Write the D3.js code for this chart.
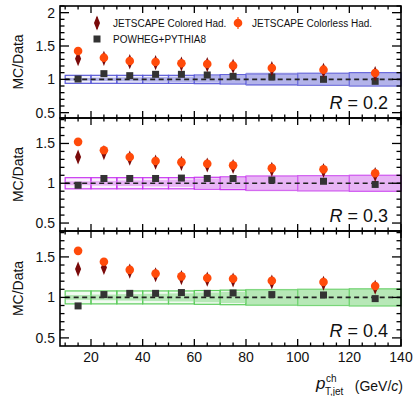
<!DOCTYPE html>
<html>
<head>
<meta charset="utf-8">
<script src="https://cdn.jsdelivr.net/npm/d3@7"></script>
<style>
  body { margin: 0; background: #fff; }
  svg { font-family: "Liberation Sans", Arial, Helvetica, sans-serif; }
</style>
</head>
<body>
<div id="chart"></div>
<script>
var width = 414, height = 396;

// bins and values
var binLo = [10, 20, 30, 40, 50, 60, 70, 80, 100, 120];
var binHi = [20, 30, 40, 50, 60, 70, 80, 100, 120, 140];
var ptCenter = [15, 25, 35, 45, 55, 65, 75, 90, 110, 130];

var radii = ["0.2", "0.3", "0.4"];

var colorlessR02 = [1.425, 1.325, 1.275, 1.26, 1.24, 1.23, 1.205, 1.17, 1.145, 1.095];
var coloredR02   = [1.31, 1.315, 1.265, 1.25, 1.23, 1.22, 1.195, 1.16, 1.135, 1.085];
var powhegR02    = [1.005, 1.085, 1.055, 1.075, 1.075, 1.065, 1.045, 1.035, 1.0, 0.97];

var colorlessR03 = [1.52, 1.415, 1.33, 1.28, 1.265, 1.245, 1.225, 1.19, 1.175, 1.125];
var coloredR03   = [1.33, 1.385, 1.315, 1.265, 1.25, 1.23, 1.21, 1.175, 1.16, 1.11];
var powhegR03    = [0.975, 1.06, 1.06, 1.06, 1.065, 1.06, 1.06, 1.04, 1.025, 0.985];

var colorlessR04 = [1.575, 1.44, 1.34, 1.295, 1.26, 1.24, 1.23, 1.205, 1.19, 1.14];
var coloredR04   = [1.35, 1.37, 1.325, 1.28, 1.245, 1.225, 1.215, 1.19, 1.175, 1.125];
var powhegR04    = [0.895, 1.035, 1.05, 1.05, 1.06, 1.05, 1.055, 1.035, 1.03, 0.985];

var statErr = [0.03, 0.025, 0.02, 0.02, 0.02, 0.02, 0.02, 0.02, 0.025, 0.025];

// data uncertainties around unity (half widths)
var sysOpenR02 = [0.06, 0.06, 0.06, 0.06, 0.06, 0.065, 0.07, 0.08, 0.09, 0.1];
var sysFillR02 = [0.02, 0.025, 0.03, 0.035, 0.04, 0.05, 0.06, 0.1, 0.1, 0.1];
var sysOpenR03 = [0.07, 0.07, 0.07, 0.07, 0.07, 0.075, 0.08, 0.09, 0.095, 0.1];
var sysFillR03 = [0.025, 0.03, 0.035, 0.04, 0.045, 0.06, 0.07, 0.1, 0.1, 0.1];
var sysOpenR04 = [0.08, 0.08, 0.08, 0.08, 0.08, 0.085, 0.09, 0.095, 0.1, 0.105];
var sysFillR04 = [0.03, 0.035, 0.04, 0.045, 0.05, 0.06, 0.07, 0.105, 0.105, 0.105];

var xTicksMajor = [20, 40, 60, 80, 100, 120, 140];
var yTicksMajor = [0.5, 1, 1.5, 2];

var panels = [
  { r: radii[0], colorless: colorlessR02, colored: coloredR02, powheg: powhegR02,
    sysOpen: sysOpenR02, sysFill: sysFillR02, domain: [0.42, 2.1], range: [118, 6],
    stroke: "#5a5ad8", fill: "#8a8ae0" },
  { r: radii[1], colorless: colorlessR03, colored: coloredR03, powheg: powhegR03,
    sysOpen: sysOpenR03, sysFill: sysFillR03, domain: [0.4, 1.82], range: [231, 118],
    stroke: "#c838f0", fill: "#dc8cf0" },
  { r: radii[2], colorless: colorlessR04, colored: coloredR04, powheg: powhegR04,
    sysOpen: sysOpenR04, sysFill: sysFillR04, domain: [0.4, 1.82], range: [346, 231],
    stroke: "#5ccc5c", fill: "#90dc90" }
];

var svg = d3.select("#chart")
  .append("svg")
  .attr("width", width)
  .attr("height", height);

var xScale = d3.scaleLinear()
  .domain([8, 140])
  .range([60, 401]);

var colColored = "#7a0a0a", colColorless = "#ff4a0a", colPowheg = "#333333";

panels.forEach(function(p, pi) {
  var yScale = d3.scaleLinear().domain(p.domain).range(p.range);
  var g = svg.append("g").attr("class", "panel-" + pi);

  var bins = ptCenter.map(function(d, i) {
    return { lo: binLo[i], hi: binHi[i], x: d, open: p.sysOpen[i], fill: p.sysFill[i],
      colorless: p.colorless[i], colored: p.colored[i], powheg: p.powheg[i], err: statErr[i] };
  });

  // open boxes (light interior)
  g.selectAll(".sysopen")
    .data(bins)
    .enter()
    .append("rect")
    .attr("x", d => xScale(d.lo))
    .attr("width", d => xScale(d.hi) - xScale(d.lo))
    .attr("y", d => yScale(1 + d.open))
    .attr("height", d => yScale(1 - d.open) - yScale(1 + d.open))
    .style("fill", p.fill)
    .style("fill-opacity", 0.12)
    .style("stroke", p.stroke)
    .style("stroke-width", 1.2);

  // filled uncertainty band
  g.selectAll(".sysfill")
    .data(bins)
    .enter()
    .append("rect")
    .attr("x", d => xScale(d.lo))
    .attr("width", d => xScale(d.hi) - xScale(d.lo))
    .attr("y", d => yScale(1 + d.fill))
    .attr("height", d => yScale(1 - d.fill) - yScale(1 + d.fill))
    .style("fill", p.fill)
    .style("opacity", 0.6);

  // unity line
  g.append("line")
    .attr("x1", xScale(10)).attr("x2", xScale(140))
    .attr("y1", yScale(1)).attr("y2", yScale(1))
    .style("stroke", "#222")
    .style("stroke-width", 1.6)
    .style("stroke-dasharray", "5,3.5");

  // POWHEG squares
  g.selectAll(".pw-err")
    .data(bins).enter().append("line")
    .attr("x1", d => xScale(d.x)).attr("x2", d => xScale(d.x))
    .attr("y1", d => yScale(d.powheg - d.err / 2)).attr("y2", d => yScale(d.powheg + d.err / 2))
    .style("stroke", colPowheg).style("stroke-width", 1.2);
  g.selectAll(".pw")
    .data(bins).enter().append("rect")
    .attr("x", d => xScale(d.x) - 3.5).attr("y", d => yScale(d.powheg) - 3.5)
    .attr("width", 7).attr("height", 7)
    .style("fill", colPowheg);

  // colored hadronization diamonds
  var diamond = d3.symbol().type(d3.symbolDiamond).size(50);
  g.selectAll(".col-err")
    .data(bins).enter().append("line")
    .attr("x1", d => xScale(d.x)).attr("x2", d => xScale(d.x))
    .attr("y1", d => yScale(d.colored - d.err)).attr("y2", d => yScale(d.colored + d.err))
    .style("stroke", colColored).style("stroke-width", 1.2);
  g.selectAll(".col")
    .data(bins).enter().append("path")
    .attr("d", diamond)
    .attr("transform", d => `translate(${xScale(d.x)},${yScale(d.colored)}) scale(0.8,1.15)`)
    .style("fill", colColored);

  // colorless hadronization circles
  g.selectAll(".cl-err")
    .data(bins).enter().append("line")
    .attr("x1", d => xScale(d.x)).attr("x2", d => xScale(d.x))
    .attr("y1", d => yScale(d.colorless - d.err)).attr("y2", d => yScale(d.colorless + d.err))
    .style("stroke", colColorless).style("stroke-width", 1.2);
  g.selectAll(".cl")
    .data(bins).enter().append("circle")
    .attr("cx", d => xScale(d.x)).attr("cy", d => yScale(d.colorless))
    .attr("r", 4.3)
    .style("fill", colColorless);

  // frame
  var x0 = xScale.range()[0], x1 = xScale.range()[1];
  var yTop = p.range[1], yBot = p.range[0];
  g.append("rect")
    .attr("x", x0).attr("y", yTop)
    .attr("width", x1 - x0).attr("height", yBot - yTop)
    .style("fill", "none").style("stroke", "#000").style("stroke-width", 1.6);

  // y ticks (inside, both sides)
  var yMinor = d3.range(0.5, p.domain[1] + 0.001, 0.1).map(v => Math.round(v * 10) / 10)
    .filter(v => v >= p.domain[0] && v <= p.domain[1]);
  var yMajorHere = yTicksMajor.filter(v => v >= p.domain[0] && v <= p.domain[1]);
  [[x0, 1], [x1, -1]].forEach(function(side) {
    g.selectAll(null).data(yMinor).enter().append("line")
      .attr("x1", side[0]).attr("x2", d => side[0] + side[1] * (yMajorHere.indexOf(d) >= 0 ? 9 : 4.5))
      .attr("y1", d => yScale(d)).attr("y2", d => yScale(d))
      .style("stroke", "#000").style("stroke-width", 1.3);
  });

  // x ticks (inside, top and bottom)
  var xMinor = d3.range(10, 141, 5);
  [[yBot, -1], [yTop, 1]].forEach(function(side) {
    g.selectAll(null).data(xMinor).enter().append("line")
      .attr("x1", d => xScale(d)).attr("x2", d => xScale(d))
      .attr("y1", side[0]).attr("y2", d => side[0] + side[1] * (xTicksMajor.indexOf(d) >= 0 ? 7 : 3.5))
      .style("stroke", "#000").style("stroke-width", 1.3);
  });

  // y tick labels
  g.selectAll(".ylab").data(yMajorHere).enter().append("text")
    .attr("x", 55).attr("y", d => yScale(d) + 5)
    .attr("text-anchor", "end")
    .style("font-size", "14px").style("fill", "#111")
    .text(d => d);

  // y title
  g.append("text")
    .attr("transform", `translate(23,${(yTop + yBot) / 2}) rotate(-90)`)
    .attr("text-anchor", "middle")
    .style("font-size", "14px").style("fill", "#111")
    .text("MC/Data");

  // radius label
  var rl = g.append("text")
    .attr("x", 388).attr("y", yBot - 9)
    .attr("text-anchor", "end")
    .style("font-size", "18px").style("fill", "#111");
  rl.append("tspan").style("font-style", "italic").text("R");
  rl.append("tspan").text(" = " + p.r);

  // x tick labels on bottom panel
  if (pi === panels.length - 1) {
    g.selectAll(".xlab").data(xTicksMajor).enter().append("text")
      .attr("x", d => xScale(d)).attr("y", yBot + 16)
      .attr("text-anchor", "middle")
      .style("font-size", "14px").style("fill", "#111")
      .text(d => d);
  }
});

// x axis title
svg.append("text")
  .attr("x", 403).attr("y", 391)
  .attr("text-anchor", "end")
  .style("font-size", "14px").style("fill", "#111")
  .html('(GeV/<tspan font-style="italic">c</tspan>)');
svg.append("text")
  .attr("x", 316).attr("y", 389)
  .style("font-size", "17px").style("font-style", "italic").style("fill", "#111")
  .text("p");
svg.append("text")
  .attr("x", 326).attr("y", 382)
  .style("font-size", "10px").style("fill", "#111")
  .text("ch");
svg.append("text")
  .attr("x", 325).attr("y", 395)
  .style("font-size", "10px").style("fill", "#111")
  .text("T,jet");

// legend
var legend = svg.append("g").attr("class", "legend");
legend.append("path")
  .attr("d", d3.symbol().type(d3.symbolDiamond).size(50))
  .attr("transform", "translate(97,23) scale(0.8,1.15)")
  .style("fill", colColored);
legend.append("line").attr("x1", 97).attr("x2", 97).attr("y1", 17).attr("y2", 29)
  .style("stroke", colColored).style("stroke-width", 1.2);
legend.append("text").attr("x", 113).attr("y", 27)
  .style("font-size", "10px").style("fill", "#111").text("JETSCAPE Colored Had.");
legend.append("circle").attr("cx", 238).attr("cy", 23).attr("r", 4.3)
  .style("fill", colColorless);
legend.append("line").attr("x1", 238).attr("x2", 238).attr("y1", 17).attr("y2", 29)
  .style("stroke", colColorless).style("stroke-width", 1.2);
legend.append("text").attr("x", 252).attr("y", 27)
  .style("font-size", "10px").style("fill", "#111").text("JETSCAPE Colorless Had.");
legend.append("rect").attr("x", 93.5).attr("y", 35.5).attr("width", 7).attr("height", 7)
  .style("fill", colPowheg);
legend.append("text").attr("x", 113).attr("y", 43)
  .style("font-size", "10px").style("fill", "#111").text("POWHEG+PYTHIA8");
</script>
</body>
</html>
